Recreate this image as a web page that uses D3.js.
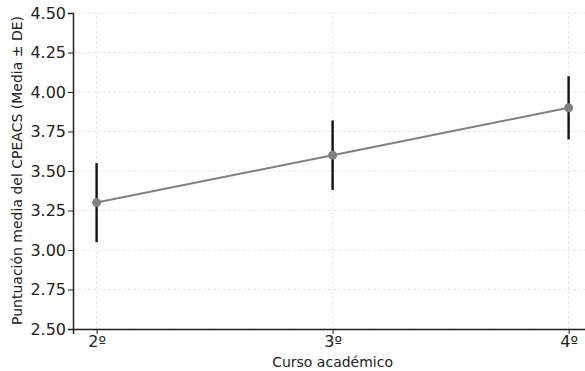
<!DOCTYPE html>
<html>
<head>
<meta charset="utf-8">
<script src="https://cdn.jsdelivr.net/npm/d3@7"></script>
<style>
  body { margin: 0; background: #fff; }
  svg { display: block; font-family: "DejaVu Sans", sans-serif; }
</style>
</head>
<body>
<div id="chart"></div>
<script>
const cursos = ["2º", "3º", "4º"];
const cursoNum = [2, 3, 4];
const medias = [3.30, 3.60, 3.90];
const desv = [0.25, 0.22, 0.20];
const yTicks = [2.50, 2.75, 3.00, 3.25, 3.50, 3.75, 4.00, 4.25, 4.50];

const width = 585, height = 371;
const margin = { top: 13, right: 0, bottom: 42, left: 73 };

const svg = d3.select("#chart")
  .append("svg")
  .attr("width", width)
  .attr("height", height);

// x domain padded like matplotlib, right side runs off the canvas
const x = d3.scaleLinear()
  .domain([1.9, 4.1])
  .range([margin.left, margin.left + 472 * 1.1]);

const y = d3.scaleLinear()
  .domain([2.5, 4.5])
  .range([height - margin.bottom, margin.top]);

const data = cursoNum.map((c, i) => ({ c: c, label: cursos[i], m: medias[i], sd: desv[i] }));

// grid
svg.append("g")
  .selectAll("line")
  .data(yTicks)
  .enter()
  .append("line")
  .attr("x1", margin.left)
  .attr("x2", width)
  .attr("y1", d => y(d))
  .attr("y2", d => y(d))
  .attr("stroke", "#e2e2e2")
  .attr("stroke-width", 0.8)
  .attr("stroke-dasharray", "3,2");

svg.append("g")
  .selectAll("line")
  .data(cursoNum)
  .enter()
  .append("line")
  .attr("x1", d => x(d))
  .attr("x2", d => x(d))
  .attr("y1", y(2.5))
  .attr("y2", y(4.5))
  .attr("stroke", "#e2e2e2")
  .attr("stroke-width", 0.8)
  .attr("stroke-dasharray", "3,2");

// axes
const xAxis = svg.append("g")
  .attr("transform", "translate(0," + y(2.5) + ")")
  .call(d3.axisBottom(x).tickValues(cursoNum).tickFormat((d, i) => cursos[i]).tickSizeOuter(0).tickSize(5).tickPadding(2));

const yAxis = svg.append("g")
  .attr("transform", "translate(" + margin.left + ",0)")
  .call(d3.axisLeft(y).tickValues(yTicks).tickFormat(d3.format(".2f")).tickSizeOuter(0).tickSize(5).tickPadding(2));

[xAxis, yAxis].forEach(a => {
  a.select(".domain").attr("stroke", "#222").attr("stroke-width", 1.5);
  a.selectAll(".tick line").attr("stroke", "#222");
  a.selectAll("text").attr("font-size", 16).attr("fill", "#222").attr("font-family", "DejaVu Sans");
});

// error bars
svg.append("g")
  .selectAll("line")
  .data(data)
  .enter()
  .append("line")
  .attr("x1", d => x(d.c))
  .attr("x2", d => x(d.c))
  .attr("y1", d => y(d.m + d.sd))
  .attr("y2", d => y(d.m - d.sd))
  .attr("stroke", "#111")
  .attr("stroke-width", 2.4);

// mean line
const line = d3.line()
  .x(d => x(d.c))
  .y(d => y(d.m));

svg.append("path")
  .datum(data)
  .attr("d", line)
  .attr("fill", "none")
  .attr("stroke", "#808080")
  .attr("stroke-width", 2);

svg.append("g")
  .selectAll("circle")
  .data(data)
  .enter()
  .append("circle")
  .attr("cx", d => x(d.c))
  .attr("cy", d => y(d.m))
  .attr("r", 4.5)
  .attr("fill", "#808080");

// labels
svg.append("text")
  .attr("x", x(3))
  .attr("y", 367)
  .attr("text-anchor", "middle")
  .attr("font-size", 14)
  .attr("fill", "#222")
  .text("Curso académico");

svg.append("text")
  .attr("transform", "translate(22,170.5) rotate(-90)")
  .attr("text-anchor", "middle")
  .attr("font-size", 14)
  .attr("fill", "#222")
  .text("Puntuación media del CPEACS (Media ± DE)");
</script>
</body>
</html>
